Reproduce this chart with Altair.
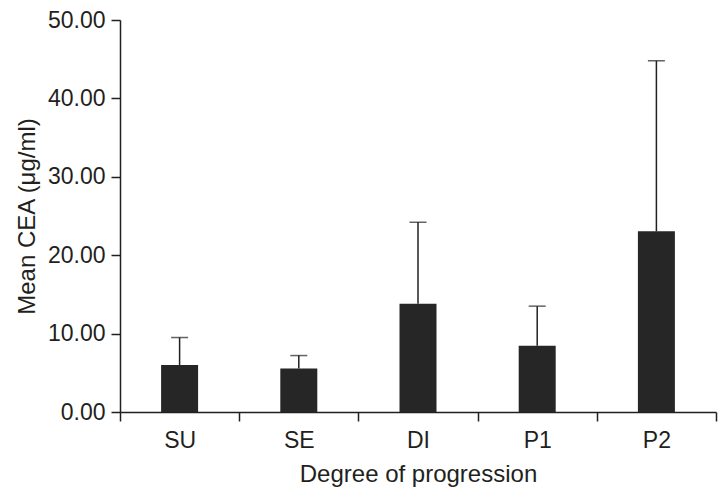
import altair as alt
import pandas as pd

categories = ["SU", "SE", "DI", "P1", "P2"]
means = [6.0, 5.55, 13.8, 8.45, 23.05]
upper = [9.5, 7.2, 24.2, 13.5, 44.8]

df = pd.DataFrame({"cat": categories, "mean": means, "upper": upper})

TEXT = "#231f20"
FONT = "Liberation Sans"

x = alt.X("cat:N", sort=categories, title="Degree of progression",
          scale=alt.Scale(paddingInner=0, paddingOuter=0),
          axis=alt.Axis(tickBand="extent", labelAngle=0, labelPadding=8,
                        titlePadding=10))
y = alt.Y("mean:Q", title="Mean CEA (\u03bcg/ml)",
          scale=alt.Scale(domain=[0, 50], nice=False),
          axis=alt.Axis(values=[0, 10, 20, 30, 40, 50], format=".2f",
                        labelPadding=6, titlePadding=8))

bars = alt.Chart(df).mark_bar(color="#262626", size=37).encode(x=x, y=y)
err = alt.Chart(df).mark_rule(color=TEXT, strokeWidth=1.5).encode(
    x=alt.X("cat:N", sort=categories), y="mean:Q", y2="upper:Q")
cap = alt.Chart(df).mark_tick(color=TEXT, thickness=1.5, size=17).encode(
    x=alt.X("cat:N", sort=categories), y="upper:Q")

chart = (bars + err + cap).properties(
    width=596, height=392,
    autosize=alt.AutoSizeParams(type="none"),
    padding={"left": 112, "top": 12, "right": 3, "bottom": 79},
).configure_view(stroke=None).configure_axis(
    grid=False,
    domainColor=TEXT, domainWidth=1.5,
    tickColor=TEXT, tickWidth=1.5, tickSize=9,
    labelFont=FONT, labelFontSize=23, labelColor=TEXT,
    titleFont=FONT, titleFontSize=24, titleColor=TEXT, titleFontWeight="normal",
)

chart.save("out.html", embed_options={"renderer": "svg", "actions": False})
